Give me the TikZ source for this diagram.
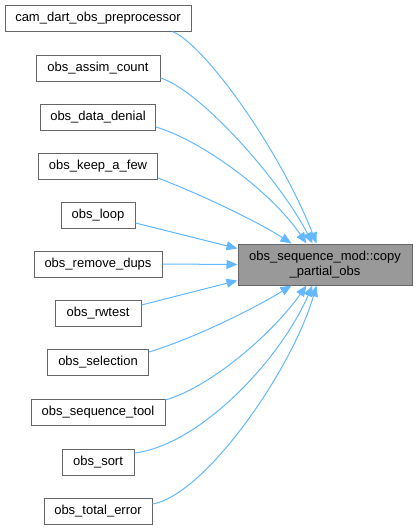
\documentclass[tikz,border=0pt]{standalone}
\usepackage{fontspec}
\setmainfont{Liberation Sans}
\usetikzlibrary{arrows.meta,calc}
\definecolor{edgeblue}{RGB}{99,184,255}
\definecolor{boxborder}{RGB}{102,102,102}
\definecolor{targetfill}{RGB}{153,153,153}
\begin{document}
\begin{tikzpicture}[x=1pt,y=-1pt,
  font=\fontsize{13}{15}\selectfont,
  src/.style={draw=boxborder, fill=white, line width=1pt, minimum height=26pt, inner sep=0pt},
  tgt/.style={draw=boxborder, fill=targetfill, line width=1pt, minimum width=174pt, minimum height=41pt, inner sep=0pt, align=center},
  edge/.style={draw=edgeblue, line width=1pt, -{Triangle[length=11pt,width=9pt]}, fill=none}]
\useasboundingbox (0,0) rectangle (417,530);
\node[src, minimum width=186pt] (cam) at (98,18) {cam\_dart\_obs\_preprocessor};
\node[src, minimum width=124pt] (assim) at (98,68) {obs\_assim\_count};
\node[src, minimum width=115pt] (denial) at (98,117) {obs\_data\_denial};
\node[src, minimum width=119pt] (keep) at (98,166) {obs\_keep\_a\_few};
\node[src, minimum width=74pt] (loop) at (98,215) {obs\_loop};
\node[src, minimum width=128pt] (dups) at (98,264) {obs\_remove\_dups};
\node[src, minimum width=86pt] (rwtest) at (98,313) {obs\_rwtest};
\node[src, minimum width=101pt] (sel) at (98,362) {obs\_selection};
\node[src, minimum width=134pt] (seq) at (98,412) {obs\_sequence\_tool};
\node[src, minimum width=72pt] (sort) at (98,462) {obs\_sort};
\node[src, minimum width=108pt] (tot) at (98,511) {obs\_total\_error};
\node[tgt] (T) at (325,264.5) {obs\_sequence\_mod::copy\\\_partial\_obs};

\draw[edge] ($(cam.south east)+(-19,0)$) .. controls (205,45) and (280,150) .. ($(T.north west)+(79,0)$);
\draw[edge] ($(assim.east)+(0,10)$) .. controls (200,90) and (280,180) .. ($(T.north west)+(75,0)$);
\draw[edge] ($(denial.east)+(0,10)$) .. controls (200,140) and (270,190) .. ($(T.north west)+(69,0)$);
\draw[edge] ($(keep.east)+(0,12)$) .. controls (195,192) and (255,220) .. ($(T.north west)+(54,0)$);
\draw[edge] ($(loop.east)+(0,8)$) -- ($(T.west)+(0,-16)$);
\draw[edge] (dups.east) -- (T.west);
\draw[edge] ($(rwtest.east)+(0,-8)$) -- ($(T.west)+(0,16)$);
\draw[edge] ($(sel.east)+(0,-10)$) .. controls (195,338) and (255,308) .. ($(T.south west)+(54,0)$);
\draw[edge] ($(seq.east)+(0,-12)$) .. controls (215,385) and (275,330) .. ($(T.south west)+(69,0)$);
\draw[edge] ($(sort.east)+(0,-9)$) .. controls (200,445) and (280,360) .. ($(T.south west)+(75,0)$);
\draw[edge] ($(tot.east)+(0,-7)$) .. controls (205,495) and (292,370) .. ($(T.south west)+(79,0)$);
\end{tikzpicture}
\end{document}
